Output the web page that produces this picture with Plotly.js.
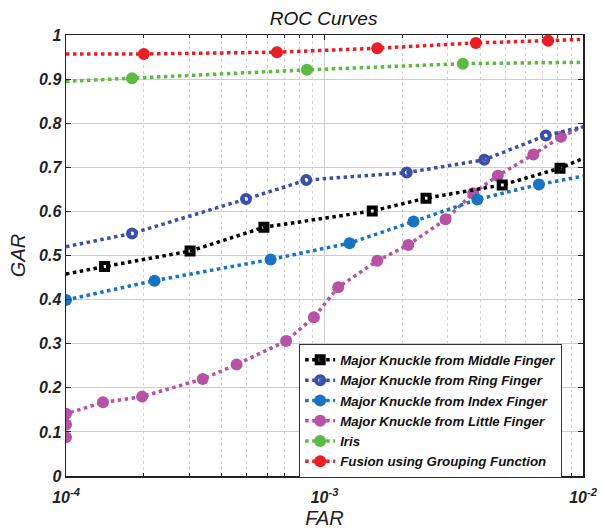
<!DOCTYPE html>
<html>
<head>
<meta charset="utf-8">
<script src="https://cdn.plot.ly/plotly-3.0.1.min.js"></script>
<style>html,body{margin:0;padding:0;background:#fff;}#chart{width:602px;height:531px;}</style>
</head>
<body>
<div id="chart"></div>
<script>
// ---- data (line points include the curve's ends at the axis edges) ----
const seriesNames = [
  'Major Knuckle from Middle Finger',
  'Major Knuckle from Ring Finger',
  'Major Knuckle from Index Finger',
  'Major Knuckle from Little Finger',
  'Iris',
  'Fusion using Grouping Function'
];

// Middle finger
const middleFAR = [1e-4, 1.41e-4, 3.02e-4, 5.83e-4, 1.53e-3, 2.47e-3, 4.87e-3, 8.15e-3, 1e-2];
const middleGAR = [0.458, 0.475, 0.510, 0.564, 0.601, 0.630, 0.660, 0.698, 0.720];
const middleMark = [0, 1, 1, 1, 1, 1, 1, 1, 0];

// Ring finger
const ringFAR = [1e-4, 1.80e-4, 4.97e-4, 8.5e-4, 2.08e-3, 4.15e-3, 7.18e-3, 1e-2];
const ringGAR = [0.520, 0.550, 0.628, 0.671, 0.688, 0.717, 0.772, 0.792];
const ringMark = [0, 1, 1, 1, 1, 1, 1, 0];

// Index finger
const indexFAR = [1e-4, 2.20e-4, 6.19e-4, 1.25e-3, 2.21e-3, 3.90e-3, 6.75e-3, 1e-2];
const indexGAR = [0.399, 0.443, 0.491, 0.528, 0.577, 0.627, 0.661, 0.680];
const indexMark = [1, 1, 1, 1, 1, 1, 1, 0];

// Little finger
const littleFAR = [1e-4, 1e-4, 1e-4, 1.39e-4, 1.97e-4, 3.38e-4, 4.57e-4, 7.10e-4, 9.10e-4, 1.13e-3, 1.60e-3, 2.11e-3, 2.94e-3, 3.76e-3, 4.68e-3, 6.43e-3, 8.22e-3, 1e-2];
const littleGAR = [0.088, 0.117, 0.141, 0.167, 0.180, 0.220, 0.253, 0.306, 0.360, 0.428, 0.488, 0.524, 0.582, 0.641, 0.681, 0.729, 0.769, 0.792];
const littleMark = [1, 1, 1, 1, 1, 1, 1, 1, 1, 1, 1, 1, 1, 1, 1, 1, 1, 0];

// Iris
const irisFAR = [1e-4, 1.80e-4, 8.55e-4, 3.43e-3, 1e-2];
const irisGAR = [0.895, 0.902, 0.921, 0.935, 0.938];
const irisMark = [0, 1, 1, 1, 0];

// Fusion
const fusionFAR = [1e-4, 2.0e-4, 6.55e-4, 1.6e-3, 3.85e-3, 7.33e-3, 1e-2];
const fusionGAR = [0.957, 0.957, 0.961, 0.970, 0.982, 0.987, 0.990];
const fusionMark = [0, 1, 1, 1, 1, 1, 0];

const yTickVals = [0, 0.1, 0.2, 0.3, 0.4, 0.5, 0.6, 0.7, 0.8, 0.9, 1];
const yTickText = ['0', '0.1', '0.2', '0.3', '0.4', '0.5', '0.6', '0.7', '0.8', '0.9', '1'];
const xTickVals = [1e-4, 1e-3, 1e-2];
const xTickText = ['10<sup>-4</sup>', '10<sup>-3</sup>', '10<sup>-2</sup>'];

// ---- styles ----
const styles = [
  {color: '#000000', symbol: 'square-open', size: 7, lw: 4},
  {color: '#3a50a8', symbol: 'circle-open', size: 8, lw: 4},
  {color: '#1874c0', symbol: 'circle', size: 12, lw: 0},
  {color: '#b653a4', symbol: 'circle', size: 12, lw: 0},
  {color: '#5db946', symbol: 'circle', size: 12, lw: 0},
  {color: '#eb1d25', symbol: 'circle', size: 12, lw: 0}
];
const seriesData = [
  [middleFAR, middleGAR, middleMark],
  [ringFAR, ringGAR, ringMark],
  [indexFAR, indexGAR, indexMark],
  [littleFAR, littleGAR, littleMark],
  [irisFAR, irisGAR, irisMark],
  [fusionFAR, fusionGAR, fusionMark]
];

const traces = [];
// draw in reverse order so first series is on top
for (let i = seriesData.length - 1; i >= 0; i--) {
  const [fx, gy, mk] = seriesData[i];
  const st = styles[i];
  traces.push({
    x: fx, y: gy, type: 'scatter', mode: 'lines', showlegend: false, hoverinfo: 'skip',
    line: {color: st.color, width: 3.5, dash: 'dot'}
  });
  traces.push({
    x: fx.filter((v, k) => mk[k]), y: gy.filter((v, k) => mk[k]),
    type: 'scatter', mode: 'markers', showlegend: false,
    marker: {color: st.color, symbol: st.symbol, size: st.size, line: {color: st.color, width: st.lw}}
  });
}
for (let i = 0; i < seriesNames.length; i++) {
  const st = styles[i];
  traces.push({
    x: [null], y: [null], type: 'scatter', mode: 'lines+markers', name: seriesNames[i],
    line: {color: st.color, width: 3.5, dash: 'dot'},
    marker: {color: st.color, symbol: st.symbol, size: st.size, line: {color: st.color, width: st.lw}}
  });
}

const FONT = 'Liberation Sans, Arial, sans-serif';
const tickFont = {family: FONT, size: 16, color: '#222', weight: 'bold', style: 'italic'};

const layout = {
  width: 602, height: 531,
  margin: {l: 66, r: 19, t: 35, b: 55},
  paper_bgcolor: '#ffffff', plot_bgcolor: '#ffffff',
  title: {text: 'ROC Curves', x: 0.5375, xanchor: 'center', y: 0.966, yanchor: 'middle',
          font: {family: FONT, size: 19, color: '#111', style: 'italic'}},
  xaxis: {
    type: 'log', range: [-4, -2],
    tickvals: xTickVals, ticktext: xTickText,
    ticks: 'inside', ticklen: 5, tickcolor: '#222', tickwidth: 1,
    ticklabelstandoff: 6,
    showline: true, linecolor: '#222', linewidth: 1.5, mirror: 'ticks',
    showgrid: true, gridcolor: '#cdcdcd', gridwidth: 1,
    zeroline: false,
    tickfont: tickFont,
    minor: {dtick: 'D1', ticks: 'inside', ticklen: 3, tickcolor: '#222', showgrid: true, gridcolor: '#d3d3d3', griddash: 'dot', gridwidth: 1},
    title: {text: 'FAR', standoff: 6, font: {family: FONT, size: 20, color: '#222', style: 'italic'}}
  },
  yaxis: {
    range: [0, 1],
    tickvals: yTickVals, ticktext: yTickText,
    ticks: 'inside', ticklen: 5, tickcolor: '#222', tickwidth: 1,
    showline: true, linecolor: '#222', linewidth: 1.5, mirror: 'ticks',
    showgrid: true, gridcolor: '#cdcdcd', gridwidth: 1,
    zeroline: false,
    tickfont: tickFont,
    title: {text: 'GAR', standoff: 8, font: {family: FONT, size: 20, color: '#222', style: 'italic'}}
  },
  legend: {
    x: 0.451, xanchor: 'left', y: 0.3, yanchor: 'top',
    bgcolor: '#ffffff', bordercolor: '#333', borderwidth: 1,
    font: {family: FONT, size: 13.3, color: '#111', weight: 'bold', style: 'italic'},
    tracegroupgap: 0, itemwidth: 30
  },
  showlegend: true
};

Plotly.newPlot('chart', traces, layout, {displayModeBar: false, staticPlot: true});
</script>
</body>
</html>
